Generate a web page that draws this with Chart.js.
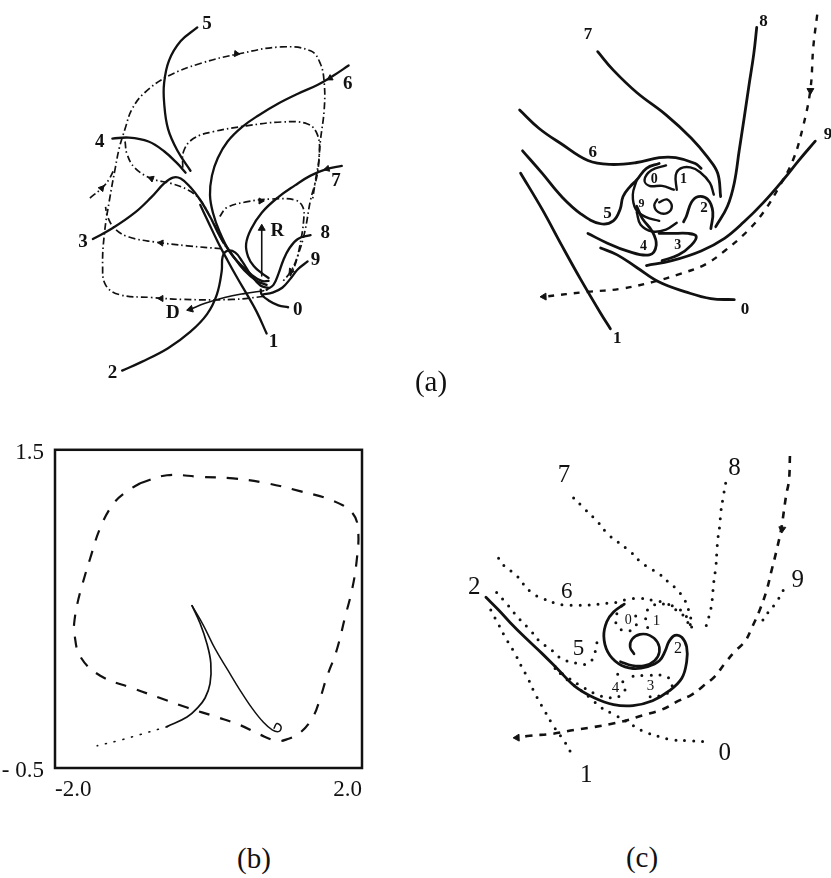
<!DOCTYPE html>
<html>
<head>
<meta charset="utf-8">
<script src="https://cdn.jsdelivr.net/npm/chart.js@4.4.1/dist/chart.umd.min.js"></script>
<style>
  body { margin: 0; background: #fff; }
  #page { position: relative; width: 831px; height: 878px; overflow: hidden; }
  .panel { position: absolute; }
  .cap { position: absolute; font: 29px "Liberation Serif", serif; color: #111; transform: translate(-50%, -50%); }
</style>
</head>
<body>
<div id="page">
  <canvas class="panel" id="aLeft" width="420" height="400" style="left:0;top:0"></canvas>
  <canvas class="panel" id="aRight" width="411" height="360" style="left:420px;top:0"></canvas>
  <canvas class="panel" id="pPlane" width="372" height="365" style="left:0;top:433px"></canvas>
  <canvas class="panel" id="cSpiral" width="391" height="400" style="left:440px;top:410px"></canvas>
  <div class="cap" style="left:431px;top:381px">(a)</div>
  <div class="cap" style="left:254px;top:858px">(b)</div>
  <div class="cap" style="left:642px;top:857px">(c)</div>
</div>
<script>
// ---- (a) left: trajectories 0-9 and the nested dash-dot cycles
const aTraj0 = [[290,310],[280,308],[270,303],[263,297],[262,292]];
const aTraj1 = [[268,337],[258,315],[248,297],[238,280],[228,262],[218,243],[208,222],[200,205]];
const aTraj2 = [[120,375],[140,366],[167,352],[190,335],[207,317],[217,297],[222,273],[223,258],[228,252],[236,254],[243,263],[252,277],[262,288],[270,290]];
const aTraj3 = [[90,240],[110,229],[133,213],[150,197],[163,183],[172,177],[180,178],[190,187],[200,200],[210,217],[220,237],[232,255],[245,272],[258,283],[268,287]];
const aTraj4 = [[110,137],[127,136],[147,140],[163,150],[177,163],[185,172]];
const aTraj5 = [[197,23],[180,37],[168,57],[163,80],[163,100],[167,127],[177,150],[190,170]];
const aTraj6 = [[352,62],[337,72],[320,82],[300,91],[280,101],[260,113],[243,125],[228,140],[218,157],[212,175],[210,195],[213,213],[220,233],[230,253],[240,265],[253,277],[263,283],[270,283]];
const aTraj7 = [[345,165],[330,168],[313,175],[297,185],[280,197],[263,213],[252,230],[247,245],[249,258],[255,268],[263,275],[270,280]];
const aTraj8 = [[313,236],[300,240],[291,250],[285,262],[280,276],[275,287],[268,292]];
const aTraj9 = [[310,263],[300,271],[293,280],[284,290],[274,295],[264,297]];
const aAxisD = [[265,293],[245,296],[225,300],[205,306],[190,312]];
const aAxisR = [[263,278],[263,229]];
const aLoop1 = [[265,299],[233,302],[183,302],[150,300],[117,297],[103,287],[100,267],[102,233],[107,200],[113,167],[117,147],[123,127],[130,107],[143,90],[167,73],[200,60],[240,50],[283,43],[313,47],[323,60],[327,80],[327,107],[323,140],[320,173],[313,200],[307,233],[300,257],[293,273],[285,283]];
const aLoop2 = [[222,250],[187,247],[153,243],[127,238],[113,230],[105,217],[103,207]];
const aLoop3 = [[123,140],[125,153],[133,167],[150,178],[170,183],[188,190],[200,200],[210,217],[217,230],[223,243],[230,253]];
const aLoop4 = [[182,167],[183,150],[193,137],[213,130],[247,124],[283,120],[310,122],[320,133],[322,153],[318,180],[315,200]];
const aLoop5 = [[220,217],[227,208],[247,202],[273,199],[297,200],[305,207],[306,220],[302,247],[297,267],[292,278]];
const aFeed = [[87,198],[100,187],[107,178],[112,168]];
// arrowheads: x, y, heading in degrees (0 = up, clockwise)
const aArrows = [[237,50,95],[160,301,270],[160,244,275],[150,178,290],[262,201,90],[99,188,40],[293,273,215],[333,75,240],[330,168,255]];
const aAxisHeads = [[263,229,0],[190,312,255]];
const aLabels = [['5',207,20],['6',351,81],['4',97,141],['7',339,181],['3',80,243],['R',279,232],['8',328,234],['9',318,262],['0',300,313],['D',172,316],['1',275,346],['2',110,378]];

// ---- (a) right: spiral sink
const bTraj0 = [[737,303],[713,302],[687,295],[660,285],[637,270],[617,257],[600,250]];
const bTraj1 = [[518,173],[540,210],[560,247],[580,283],[600,317],[610,333]];
const bTraj2 = [[713,230],[715,213],[710,200],[700,197],[693,203],[688,217],[685,223]];
const bTraj3 = [[663,263],[680,257],[693,247],[698,238],[690,235],[673,235],[660,235]];
const bTraj4 = [[587,235],[607,245],[627,253],[650,257],[657,247],[653,233],[643,220],[637,207]];
const bTraj5 = [[520,150],[540,173],[560,197],[580,215],[600,225],[613,222],[620,210],[623,197],[630,187],[637,180],[647,168],[660,163]];
const bTraj6 = [[517,108],[537,127],[560,143],[587,160],[610,164],[637,162],[660,157],[677,157],[697,163],[703,168]];
const bTraj7 = [[597,48],[613,67],[637,90],[667,113],[693,137],[710,157],[720,173],[723,197]];
const bTraj8 = [[760,23],[757,50],[752,83],[747,117],[742,150],[737,183],[730,207],[718,228]];
const bTraj9 = [[820,140],[803,160],[787,180],[767,203],[747,223],[727,240],[703,253],[673,263],[647,268]];
const bInner0 = [[667,165],[652,170],[645,180],[650,186],[663,186],[675,190]];
const bInner1 = [[678,190],[677,175],[682,168],[692,167],[702,172],[712,183],[716,195]];
const bInner9 = [[637,180],[633,195],[636,210],[646,218],[660,222]];
const bInnerLow = [[637,213],[641,226],[653,233],[667,231],[678,224]];
const bCore = [[660,203],[668,200],[673,207],[668,214],[659,213],[655,206],[658,200]];
const bFlow = [[822,10],[818,43],[815,87],[807,127],[797,160],[783,187],[767,213],[750,233],[727,253],[707,267],[680,277],[653,285],[620,292],[587,295],[542,300]];
const bArrows = [[815,88,180],[542,300,268]];
const bLabels = [['7',587,30,17],['8',767,17,17],['9',833,133,17],['6',592,152,17],['5',607,215,17],['0',748,313,17],['1',617,343,17],
  ['0',655,179,14],['1',685,179,14],['2',706,209,15],['9',642,205,12],['4',644,248,14],['3',679,247,14]];

// ---- (b) phase plane, axis units
const pXTicks = [-2, 2];
const pYTicks = [-0.5, 1.5];
const pXText = ['-2.0', '2.0'];
const pYText = ['- 0.5', '1.5'];
const pCycle = [[-0.89,1.29],[-0.54,1.34],[-0.11,1.33],[0.32,1.32],[0.76,1.29],[1.19,1.24],[1.62,1.18],[1.88,1.10],[1.95,0.99],[1.93,0.80],[1.87,0.62],[1.78,0.45],[1.67,0.24],[1.54,0.07],[1.45,-0.07],[1.36,-0.18],[1.19,-0.28],[1.02,-0.32],[0.89,-0.33],[0.67,-0.29],[0.41,-0.23],[0.11,-0.18],[-0.28,-0.12],[-0.63,-0.06],[-0.98,0.00],[-1.41,0.08],[-1.67,0.20],[-1.75,0.35],[-1.75,0.41],[-1.71,0.53],[-1.64,0.66],[-1.54,0.82],[-1.41,1.01],[-1.24,1.16],[-1.06,1.24],[-0.89,1.29]];
const pBranchA = [[-0.215,0.52],[-0.11,0.41],[-0.02,0.28],[0.03,0.16],[0.02,0.03],[-0.045,-0.06],[-0.14,-0.12],[-0.28,-0.18],[-0.54,-0.24]];
const pTail = [[-0.54,-0.24],[-0.89,-0.29],[-1.19,-0.33],[-1.45,-0.36]];
const pBranchB = [[-0.215,0.52],[-0.07,0.40],[0.085,0.25],[0.254,0.114],[0.41,-0.01],[0.567,-0.124],[0.71,-0.21],[0.83,-0.26],[0.92,-0.27],[0.945,-0.24],[0.89,-0.22],[0.855,-0.25]];

// ---- (c) dotted trajectories round the spiral
const cSpiral = [[482,597],[495,610],[507,623],[522,638],[540,655],[557,672],[573,688],[593,700],[613,707],[633,708],[653,703],[670,693],[683,680],[688,663],[688,648],[683,638],[676,636],[670,642],[666,652],[660,662],[648,668],[633,670],[618,665],[607,653],[603,637],[606,622],[613,612],[624,604]];
const cCore = [[634,655],[630,648],[632,640],[640,635],[650,636],[658,643],[660,653],[655,662],[645,667],[632,667],[620,663]];
const cTraj0 = [[553,668],[560,677],[570,685],[580,693],[590,701],[600,710],[613,717],[627,725],[643,734],[660,740],[673,743],[688,744],[707,745]];
const cTraj1 = [[487,610],[495,625],[503,640],[512,655],[518,667],[525,680],[533,697],[542,713],[552,730],[564,747],[572,762]];
const cTraj3 = [[633,678],[647,677],[667,678],[673,687],[670,694],[660,698],[648,699]];
const cTraj4 = [[553,670],[567,680],[583,690],[597,697],[608,700],[620,698],[625,690],[620,680],[613,670]];
const cTraj5 = [[493,592],[502,602],[517,620],[527,630],[537,642],[548,650],[560,660],[577,665],[587,665],[593,657],[595,647],[597,640]];
const cTraj6 = [[495,557],[503,567],[512,573],[520,583],[530,593],[540,598],[553,603],[563,605],[577,605],[587,605],[597,604],[607,603],[617,602],[627,599],[640,598],[653,600],[667,603],[677,610],[687,618],[690,625],[692,630]];
const cTraj7 = [[572,495],[582,505],[597,520],[607,532],[617,540],[630,550],[640,560],[650,567],[660,573],[670,582],[677,588],[685,598],[690,610],[693,623],[693,630]];
const cTraj8 = [[728,480],[725,497],[723,510],[722,523],[720,537],[719,550],[718,565],[716,580],[715,590],[713,608],[707,630]];
const cTraj9 = [[787,590],[780,602],[772,612],[765,622]];
const cLoop0 = [[621,606],[616,615],[616,625],[623,631],[633,630],[637,621],[633,611]];
const cLoop1 = [[648,628],[646,615],[652,606],[665,604],[680,609],[688,617],[693,628]];
const cFlow = [[794,452],[793,477],[790,493],[785,527],[780,550],[775,570],[770,590],[763,610],[755,628],[748,642],[738,652],[727,665],[717,678],[705,688],[693,697],[680,703],[663,712],[643,718],[627,723],[610,727],[593,730],[573,733],[550,737],[527,739],[514,741]];
const cArrows = [[786,527,185],[514,741,268]];
const cLabels = [['7',562,472,25],['8',737,465,25],['9',802,580,25],['2',470,587,25],['6',565,592,23],['5',577,650,23],['0',727,757,25],['1',585,780,25],
  ['0',628,621,14],['1',657,621,15],['2',679,650,16],['4',615,690,15],['3',651,688,15]];

const INK = '#111';
Chart.defaults.font.family = '"Liberation Serif", serif';
Chart.defaults.color = INK;

const pts = arr => arr.map(([x, y]) => ({ x, y }));

function curve(arr, width, dash, cap) {
  return {
    data: pts(arr), showLine: true, fill: false, tension: 0.4,
    borderColor: INK, borderWidth: width, borderDash: dash || [],
    borderCapStyle: cap || 'round', borderJoinStyle: 'round',
    pointRadius: 0, pointHoverRadius: 0
  };
}

function heads(arr, r) {
  return {
    data: pts(arr), showLine: false, pointStyle: 'triangle',
    pointRadius: r, pointHoverRadius: r, pointRotation: arr.map(a => a[2]),
    backgroundColor: INK, borderColor: INK, borderWidth: 1
  };
}

// labels placed in data units through the chart's own scales
function textLayer(items, weight, size) {
  return {
    id: 'textLayer',
    afterDatasetsDraw(chart) {
      const { ctx, scales: { x, y } } = chart;
      ctx.save();
      ctx.fillStyle = INK;
      ctx.textAlign = 'center';
      ctx.textBaseline = 'middle';
      items.forEach(([t, vx, vy, s]) => {
        ctx.font = `${weight} ${s || size}px "Liberation Serif", serif`;
        ctx.fillText(t, x.getPixelForValue(vx), y.getPixelForValue(vy));
      });
      ctx.restore();
    }
  };
}

function sketch(id, datasets, xr, yr, plugins) {
  const el = document.getElementById(id);
  return new Chart(el, {
    type: 'scatter',
    data: { datasets },
    options: {
      responsive: false, animation: false, devicePixelRatio: 1,
      layout: { padding: 0 },
      plugins: { legend: { display: false }, tooltip: { enabled: false } },
      scales: {
        x: { type: 'linear', display: false, min: xr[0], max: xr[1] },
        y: { type: 'linear', display: false, min: yr[0], max: yr[1], reverse: true }
      }
    },
    plugins
  });
}

// (a) left
const dashDot = [7, 3, 1.5, 3];
sketch('aLeft', [
  ...[aTraj0, aTraj1, aTraj2, aTraj3, aTraj4, aTraj5, aTraj6, aTraj7, aTraj8, aTraj9].map(c => curve(c, 2.3)),
  curve(aAxisD, 1.6), curve(aAxisR, 1.6),
  ...[aLoop1, aLoop2, aLoop3, aLoop4, aLoop5, aFeed].map(c => curve(c, 1.7, dashDot, 'butt')),
  heads(aArrows, 3.5), heads(aAxisHeads, 4)
], [0, 420], [0, 400], [textLayer(aLabels, 'bold', 19)]);

// (a) right
sketch('aRight', [
  ...[bTraj0, bTraj1, bTraj2, bTraj3, bTraj4, bTraj5, bTraj6, bTraj7, bTraj8, bTraj9].map(c => curve(c, 2.8)),
  ...[bInner0, bInner1, bInner9, bInnerLow, bCore].map(c => curve(c, 2.4)),
  curve(bFlow, 2.4, [6, 7], 'butt'),
  heads(bArrows, 4)
], [420, 831], [0, 360], [textLayer(bLabels, 'bold', 17)]);

// (b) phase plane with its frame
const frame = {
  id: 'frame',
  afterDraw(chart) {
    const { ctx, chartArea: a } = chart;
    ctx.save();
    ctx.strokeStyle = INK;
    ctx.lineWidth = 2.5;
    ctx.strokeRect(a.left, a.top, a.right - a.left, a.bottom - a.top);
    ctx.restore();
  }
};
new Chart(document.getElementById('pPlane'), {
  type: 'scatter',
  data: {
    datasets: [
      curve(pCycle, 2.2, [11, 11], 'butt'),
      curve(pBranchA, 1.7),
      curve(pTail, 1.6, [1, 8]),
      curve(pBranchB, 1.5)
    ]
  },
  options: {
    responsive: false, animation: false, devicePixelRatio: 1,
    layout: { padding: { top: 16, right: 10, left: 0, bottom: 0 } },
    plugins: { legend: { display: false }, tooltip: { enabled: false } },
    scales: {
      x: {
        type: 'linear', min: pXTicks[0], max: pXTicks[1],
        grid: { display: false }, border: { display: false },
        afterBuildTicks: s => { s.ticks = pXTicks.map(value => ({ value })); },
        afterFit: s => { s.height = 30; },
        ticks: {
          align: 'inner', autoSkip: false, maxRotation: 0, padding: 0,
          font: { size: 23 }, color: INK,
          callback: v => pXText[pXTicks.indexOf(v)]
        }
      },
      y: {
        type: 'linear', min: pYTicks[0], max: pYTicks[1],
        grid: { display: false }, border: { display: false },
        afterBuildTicks: s => { s.ticks = pYTicks.map(value => ({ value })); },
        afterFit: s => { s.width = 55; },
        ticks: {
          autoSkip: false, padding: 3, labelOffset: 3,
          font: { size: 23 }, color: INK,
          callback: v => pYText[pYTicks.indexOf(v)]
        }
      }
    }
  },
  plugins: [frame]
});

// (c)
const dots = [0, 9];
sketch('cSpiral', [
  curve(cSpiral, 2.8), curve(cCore, 2.6),
  ...[cTraj0, cTraj1, cTraj3, cTraj4, cTraj5, cTraj6, cTraj7, cTraj8, cTraj9, cLoop0, cLoop1].map(c => curve(c, 3, dots, 'round')),
  curve(cFlow, 2.6, [7, 7], 'butt'),
  heads(cArrows, 4)
], [440, 831], [410, 810], [textLayer(cLabels, 'normal', 22)]);
</script>
</body>
</html>
